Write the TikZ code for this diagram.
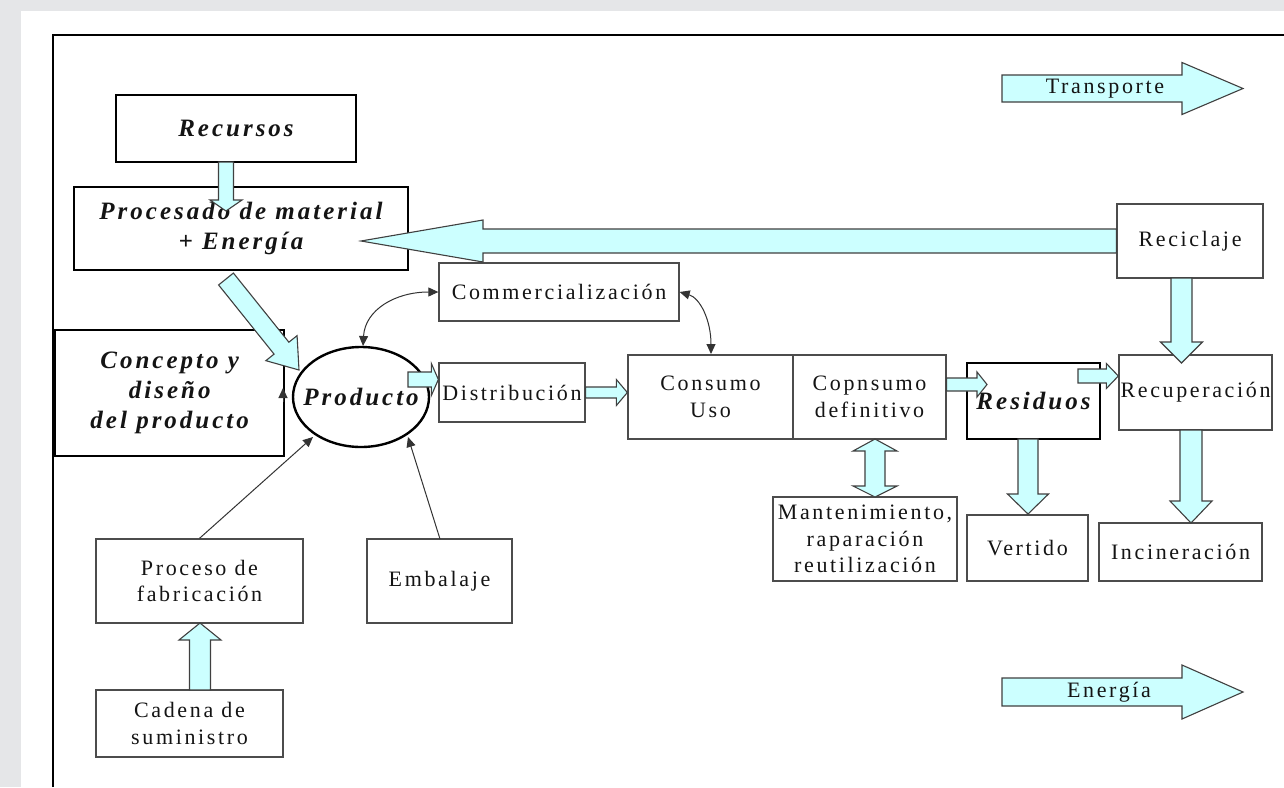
\documentclass[tikz,border=0pt]{standalone}
\usepackage{fontspec}
\setmainfont{Liberation Serif}
\newfontfamily\rgfont[LetterSpace=12]{Liberation Serif}
\newfontfamily\bifont[LetterSpace=12]{Liberation Serif}
\usetikzlibrary{calc,arrows.meta,shapes.geometric}
\definecolor{lcyan}{RGB}{204,255,255}
\definecolor{bggray}{RGB}{229,230,232}
\definecolor{txt}{RGB}{20,20,20}
\tikzset{
  box/.style={draw=black!70, line width=1.3pt, fill=white, inner sep=0pt, align=center, text=txt,
    font=\rgfont\fontsize{22}{26.5}\selectfont},
  thickbox/.style={draw=black, line width=2.4pt, fill=white, inner sep=0pt, align=center, text=txt,
    font=\bifont\fontsize{25}{30}\selectfont\bfseries\itshape},
  fat/.style={fill=lcyan, draw=black!75, line width=1.1pt, line join=miter},
  thin/.style={draw=black!80, line width=1pt, -{Triangle[length=10pt,width=9pt]}},
  thinboth/.style={draw=black!80, line width=1pt, {Triangle[length=10pt,width=9pt]}-{Triangle[length=10pt,width=9pt]}},
  lbl/.style={inner sep=0pt, text=txt, font=\rgfont\fontsize{22}{26}\selectfont},
}
% fat arrow: #1 start, #2 tip, #3 half shaft, #4 half head, #5 head length
\newcommand{\fatarrow}[5]{%
  \coordinate (fah) at ($(#2)!#5!(#1)$);
  \filldraw[fat] ($(#1)!#3!90:(#2)$) -- ($(fah)!#3!-90:(#1)$) -- ($(fah)!#4!-90:(#1)$) -- (#2)
    -- ($(fah)!#4!90:(#1)$) -- ($(fah)!#3!90:(#1)$) -- ($(#1)!#3!-90:(#2)$) -- cycle;
}
% double fat arrow: #1 tip A, #2 tip B, #3 half shaft, #4 half head, #5 head length A, #6 head length B
\newcommand{\fatdouble}[6]{%
  \coordinate (fha) at ($(#1)!#5!(#2)$);
  \coordinate (fhb) at ($(#2)!#6!(#1)$);
  \filldraw[fat] (#1) -- ($(fha)!#4!90:(#2)$) -- ($(fha)!#3!90:(#2)$) -- ($(fhb)!#3!-90:(#1)$)
    -- ($(fhb)!#4!-90:(#1)$) -- (#2) -- ($(fhb)!#4!90:(#1)$) -- ($(fhb)!#3!90:(#1)$)
    -- ($(fha)!#3!-90:(#2)$) -- ($(fha)!#4!-90:(#2)$) -- cycle;
}
\begin{document}
\begin{tikzpicture}[x=1pt,y=-1pt]
\useasboundingbox (0,0) rectangle (1284,787);
\fill[bggray] (0,0) rectangle (1284,787);
\fill[white] (21,11) rectangle (1284,787);
% frame
\draw[black, line width=1.6pt] (53,787) -- (53,35) -- (1284,35);

% boxes
\node[thickbox, minimum width=240pt, minimum height=67pt] (recursos) at (236,128.5) {Recursos};
\node[thickbox, minimum width=334pt, minimum height=83pt] (procesado) at (241,228.5) {Procesado de material\\+ Energía};
\node[thickbox, minimum width=229pt, minimum height=126pt, anchor=north west] (concepto) at (54,329) {Concepto y\\diseño\\del producto};
\node[thickbox, ellipse, draw, inner xsep=-13pt, inner ysep=0pt, minimum width=136pt, minimum height=100pt] (producto) at (361,397) {Producto};
\node[box, minimum width=240pt, minimum height=58pt] (comercial) at (559,292) {Commercialización};
\node[box, minimum width=146pt, minimum height=59pt] (distrib) at (512,392.5) {Distribución};
\node[box, minimum width=165pt, minimum height=84pt] (consumo) at (710.5,397) {Consumo\\Uso};
\node[box, minimum width=153pt, minimum height=84pt] (definitivo) at (869.5,397) {Copnsumo\\definitivo};
\node[thickbox, minimum width=133pt, minimum height=76pt] (residuos) at (1033.5,401) {Residuos};
\node[box, minimum width=153pt, minimum height=75pt] (recuperacion) at (1195.5,392.5) {Recuperación};
\node[box, minimum width=146pt, minimum height=74pt] (reciclaje) at (1190,241) {Reciclaje};
\node[box, minimum width=163pt, minimum height=58pt] (incineracion) at (1180.5,552) {Incineración};
\node[box, minimum width=121pt, minimum height=66pt] (vertido) at (1027.5,548) {Vertido};
\node[box, minimum width=184pt, minimum height=84pt] (mantenimiento) at (865,539) {Mantenimiento,\\raparación\\reutilización};
\node[box, minimum width=207pt, minimum height=84pt] (proceso) at (199.5,581) {Proceso de\\fabricación};
\node[box, minimum width=145pt, minimum height=84pt] (embalaje) at (439.5,581) {Embalaje};
\node[box, minimum width=187pt, minimum height=67pt] (cadena) at (189.5,723.5) {Cadena de\\suministro};

% legend arrows
\coordinate (tra) at (1002,88.5);
\coordinate (trb) at (1243,88.5);
\fatarrow{tra}{trb}{13.5pt}{26pt}{61pt}
\node[lbl] (transporte) at (1105,89) {Transporte};
\coordinate (ena) at (1002,692);
\coordinate (enb) at (1243,692);
\fatarrow{ena}{enb}{14pt}{27pt}{61pt}
\node[lbl] (energia) at (1109,692) {Energía};

% fat connectors
\coordinate (r1) at (226,162);
\coordinate (r2) at (226,211);
\fatarrow{r1}{r2}{7.5pt}{16pt}{11pt}

\coordinate (rc1) at (reciclaje.west |- 0,241);
\coordinate (rc2) at (361,241);
\fatarrow{rc1}{rc2}{12pt}{21pt}{122pt}

\coordinate (pp1) at (226,279);
\coordinate (pp2) at (299,370);
\fatarrow{pp1}{pp2}{9.5pt}{20pt}{28pt}

\coordinate (pd1) at (408,379.5);
\coordinate (pd2) at (distrib.west |- 0,379.5);
\fatarrow{pd1}{pd2}{7.5pt}{16pt}{7pt}

\coordinate (dc1) at (distrib.east |- 0,392.5);
\coordinate (dc2) at (consumo.west |- 0,392.5);
\fatarrow{dc1}{dc2}{5.5pt}{13pt}{11pt}

\coordinate (cr1) at (definitivo.east |- 0,384.5);
\coordinate (cr2) at (987,384.5);
\fatarrow{cr1}{cr2}{6.5pt}{12.5pt}{10pt}

\coordinate (rr1) at (1078,376);
\coordinate (rr2) at (recuperacion.west |- 0,376);
\fatarrow{rr1}{rr2}{7pt}{12.5pt}{12pt}

\coordinate (rcp1) at (1181.5,278);
\coordinate (rcp2) at (1181.5,363);
\fatarrow{rcp1}{rcp2}{10.5pt}{21pt}{21pt}

\coordinate (ri1) at (1191,430);
\coordinate (ri2) at (1191,523);
\fatarrow{ri1}{ri2}{11pt}{21pt}{22pt}

\coordinate (rv1) at (1028,439);
\coordinate (rv2) at (1028,514);
\fatarrow{rv1}{rv2}{10pt}{20.5pt}{20pt}

\coordinate (cp1) at (200,690);
\coordinate (cp2) at (200,623);
\fatarrow{cp1}{cp2}{10.5pt}{21pt}{17pt}

\coordinate (dm1) at (875,439);
\coordinate (dm2) at (875,497);
\fatdouble{dm1}{dm2}{10pt}{22pt}{12pt}{11pt}

% thin connectors
\draw[thinboth] (363,346) .. controls (365,310) and (395,292) .. (comercial.west);
\draw[thinboth] (comercial.east) .. controls (700,298) and (711,320) .. (711,354);
\draw[thin] (proceso.north) -- (313,437);
\draw[thin] (440,539) -- (408,437);
\coordinate (cu1) at (283,402);
\coordinate (cu2) at (283,388);
\draw[thin] (cu1) -- (cu2);
\end{tikzpicture}
\end{document}
